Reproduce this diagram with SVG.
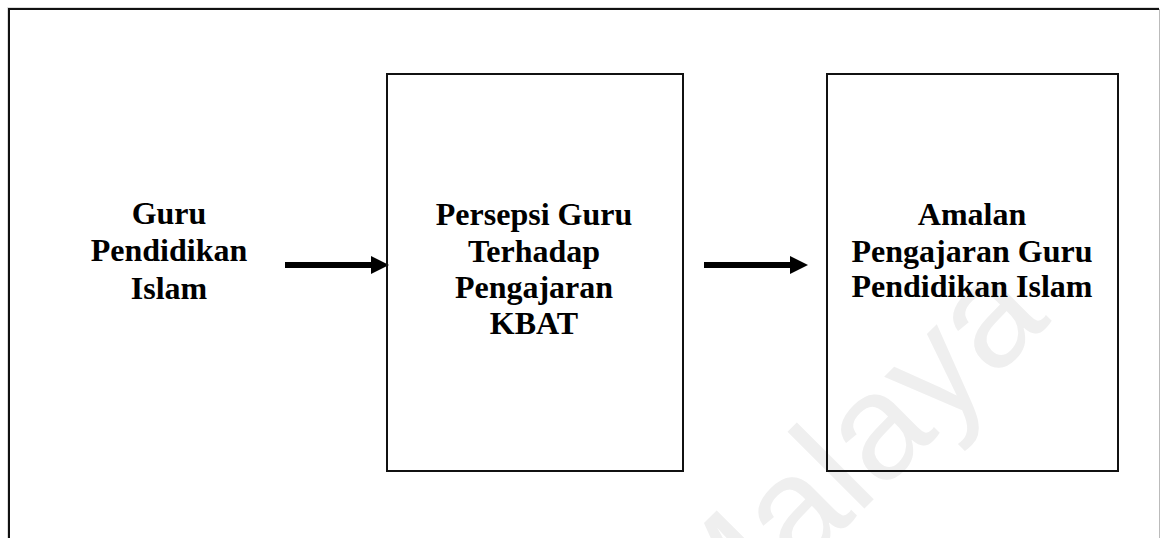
<svg xmlns="http://www.w3.org/2000/svg" width="1160" height="538" viewBox="0 0 1160 538">
<style>
.box{fill:none;stroke:#111;stroke-width:2}
.t{font-family:"Liberation Serif","Times New Roman",serif;font-weight:700;font-size:32px;fill:#000;text-anchor:middle}
.wm{font-family:"Liberation Sans",Arial,sans-serif;font-size:150px;fill:#efefef}
.c{stroke:#000;stroke-width:6;fill:none;marker-end:url(#a)}
</style>
<defs><marker id="a" markerUnits="userSpaceOnUse" markerWidth="18" markerHeight="18" refX="0" refY="9" orient="auto"><path d="M0 0L18 9L0 18Z" fill="#000"/></marker></defs>
<rect width="1160" height="538" fill="#fff"/>
<text class="wm" transform="translate(710 663) rotate(-45)">Malaya</text>
<g id="frame">
<path d="M7.500 538V7.500H1159" fill="none" stroke="#ddd" stroke-width="1"/>
<path d="M1159.500 9V538" fill="none" stroke="#bbb" stroke-width="1"/>
<path class="box" d="M9 538V9H1159"/>
</g>
<g id="connectors">
<path class="c" d="M285 265H371"/>
<path class="c" d="M704 265H790"/>
</g>
<g id="guru"><text class="t" x="169" y="224">Guru</text><text class="t" x="169" y="261">Pendidikan</text><text class="t" x="169" y="299">Islam</text></g>
<g id="persepsi"><rect class="box" x="387" y="74" width="296" height="397"/><text class="t" x="534" y="225">Persepsi Guru</text><text class="t" x="534" y="262">Terhadap</text><text class="t" x="534" y="298">Pengajaran</text><text class="t" x="534" y="334">KBAT</text></g>
<g id="amalan"><rect class="box" x="827" y="74" width="291" height="397"/><text class="t" x="972" y="225">Amalan</text><text class="t" x="972" y="262">Pengajaran Guru</text><text class="t" x="972" y="297">Pendidikan Islam</text></g>
</svg>
